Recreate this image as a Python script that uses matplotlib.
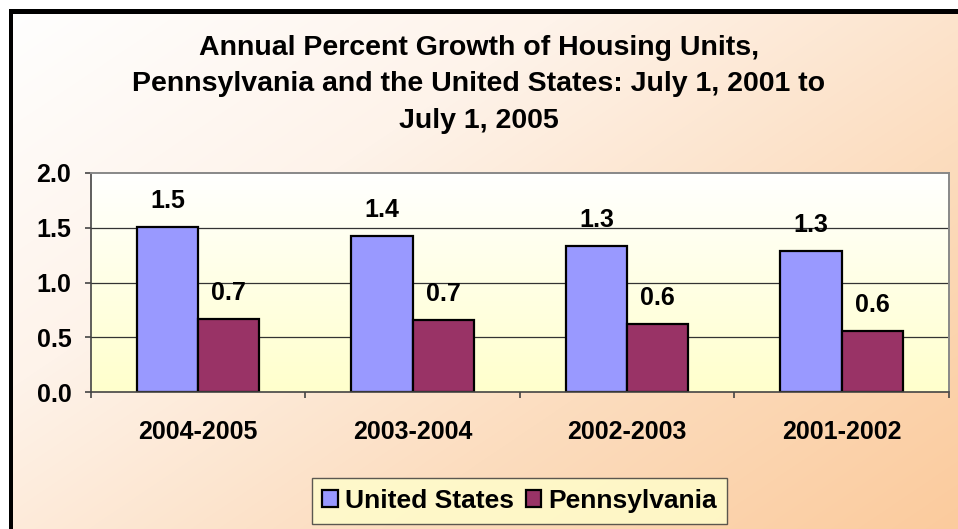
import matplotlib

matplotlib.use("Agg")
import matplotlib.pyplot as plt  # noqa: E402
import numpy as np  # noqa: E402
from matplotlib.colors import LinearSegmentedColormap  # noqa: E402
from matplotlib.patches import Rectangle  # noqa: E402

plt.rcParams["font.family"] = ["Liberation Sans", "DejaVu Sans"]
plt.rcParams["font.weight"] = "bold"

# data
periods = ["2004-2005", "2003-2004", "2002-2003", "2001-2002"]
us_growth = [1.51, 1.42, 1.33, 1.29]
pa_growth = [0.67, 0.66, 0.62, 0.56]
series_names = ["United States", "Pennsylvania"]
y_ticks = [0.0, 0.5, 1.0, 1.5, 2.0]
title = ("Annual Percent Growth of Housing Units,\n"
         "Pennsylvania and the United States: July 1, 2001 to\n"
         "July 1, 2005")

US_COLOR = "#9999FF"
PA_COLOR = "#993366"

W, H = 958, 529
fig = plt.figure(figsize=(W / 100, H / 100), dpi=100)

# page background: white margin, black frame, white -> peach diagonal gradient
bg = fig.add_axes([0, 0, 1, 1])
bg.set_xlim(0, W)
bg.set_ylim(H, 0)
bg.axis("off")
yy, xx = np.mgrid[0:H, 0:W]
t = np.clip(0.55 * xx / W + 0.45 * yy / H, 0, 1)
peach = LinearSegmentedColormap.from_list("peach", ["#FFFFFF", "#FEF3EA", "#FCDDBF", "#FBCB9D"])
bg.imshow(t, cmap=peach, extent=(0, W, H, 0), aspect="auto", vmin=0, vmax=1)
bg.add_patch(Rectangle((0, 0), W, 9, color="white", lw=0))
bg.add_patch(Rectangle((0, 0), 9, H, color="white", lw=0))
bg.add_patch(Rectangle((9, 9), W, 4.5, color="black", lw=0))
bg.add_patch(Rectangle((9, 9), 4.5, H, color="black", lw=0))

fig.text(0.5, 1 - 35 / H, title, ha="center", va="top", fontsize=20.5,
         fontweight="bold", linespacing=1.52)

# plot area
left, right, top, bottom = 90.7, 949, 172.7, 392.3
ax = fig.add_axes([left / W, 1 - bottom / H, (right - left) / W, (bottom - top) / H])
ax.set_xlim(0, len(periods))
ax.set_ylim(0, 2.0)

grad = np.linspace(0, 1, 256)[:, None]
plot_cmap = LinearSegmentedColormap.from_list("plotbg", ["#FFFFCC", "#FFFFFF"])
ax.imshow(grad, cmap=plot_cmap, extent=(0, len(periods), 0, 2.0), aspect="auto",
          origin="lower", zorder=0)

for y in y_ticks[1:-1]:
    ax.axhline(y, color="#333333", lw=0.9, zorder=1)

x = np.arange(len(periods)) + 0.5
bw = 1 / 3.5
ax.bar(x - bw / 2, us_growth, bw, color=US_COLOR, edgecolor="black", lw=1.6,
       label=series_names[0], zorder=2)
ax.bar(x + bw / 2, pa_growth, bw, color=PA_COLOR, edgecolor="black", lw=1.6,
       label=series_names[1], zorder=2)

for xs, vals in ((x - bw / 2, us_growth), (x + bw / 2, pa_growth)):
    for xi, v in zip(xs, vals):
        ax.annotate(f"{v:.1f}", (xi, v), xytext=(0, 10), textcoords="offset points",
                    ha="center", va="bottom", fontsize=18, fontweight="bold")

ax.set_yticks(y_ticks)
ax.set_yticklabels([f"{v:.1f}" for v in y_ticks])
ax.set_xticks(x)
ax.set_xticklabels(periods)
ax.set_xticks(np.arange(len(periods) + 1), minor=True)
ax.tick_params(axis="x", which="major", length=0, pad=20, labelsize=18)
ax.tick_params(axis="x", which="minor", length=4, width=1.2, color="#444444")
ax.tick_params(axis="y", length=4, width=1.2, color="#444444", pad=10, labelsize=18)
for lab in ax.get_xticklabels() + ax.get_yticklabels():
    lab.set_fontweight("bold")

for side in ("top", "right"):
    ax.spines[side].set_color("#888888")
    ax.spines[side].set_linewidth(1.4)
for side in ("left", "bottom"):
    ax.spines[side].set_color("#444444")
    ax.spines[side].set_linewidth(1.2)

leg = fig.legend(loc="center", bbox_to_anchor=(519.5 / W, 1 - 501 / H), ncol=2,
                 frameon=True, fancybox=False, fontsize=19, handlelength=0.6,
                 handleheight=0.6, handletextpad=0.25, columnspacing=0.45,
                 borderpad=0.4, borderaxespad=0)
leg.get_frame().set_facecolor("#FFFFCC")
leg.get_frame().set_edgecolor("#333333")
leg.get_frame().set_linewidth(1.0)
for txt in leg.get_texts():
    txt.set_fontweight("bold")

fig.savefig("out.png", dpi=100)
